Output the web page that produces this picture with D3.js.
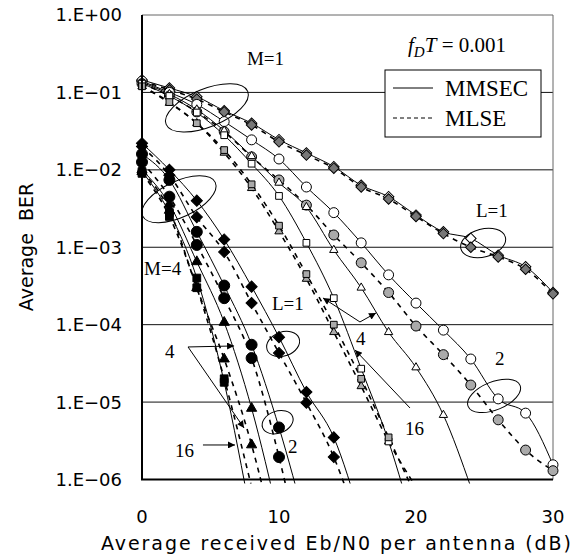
<!DOCTYPE html>
<html>
<head>
<meta charset="utf-8">
<script src="https://cdn.jsdelivr.net/npm/d3@7"></script>
<style>
body { margin: 0; background: #fff; }
</style>
</head>
<body>
<div id="chart"></div>
<script>
// values, 2 dB steps
const snr = [0, 2, 4, 6, 8, 10, 12, 14, 16, 18, 20, 22, 24, 26, 28, 30];
const yTicks = [1, 1e-1, 1e-2, 1e-3, 1e-4, 1e-5, 1e-6];
const yTickLabels = ["1.E+00", "1.E\u221201", "1.E\u221202", "1.E\u221203", "1.E\u221204", "1.E\u221205", "1.E\u221206"];
const xTicks = [0, 10, 20, 30];

// M=1
const m1L1mmsec = [0.145, 0.114, 0.088, 0.058, 0.040, 0.0245, 0.0165, 0.011, 0.0063, 0.0045, 0.0026, 0.00158, 0.0013, 0.00079, 0.00056, 0.00026];
const m1L1mlse  = [0.14, 0.108, 0.082, 0.056, 0.038, 0.023, 0.0155, 0.0105, 0.006, 0.0042, 0.0025, 0.0015, 0.001, 0.00075, 0.00052, 0.00025];
const m1L2mmsec = [0.14, 0.1, 0.07, 0.042, 0.0244, 0.0138, 0.006, 0.0028, 0.00114, 0.00044, 1.9e-4, 8.5e-5, 3.6e-5, 1.1e-5, 7.2e-6, 1.55e-6];
const m1L2mlse  = [0.13, 0.09, 0.056, 0.031, 0.0147, 0.0074, 0.0035, 0.00144, 6.3e-4, 2.6e-4, 9.6e-5, 4.1e-5, 1.66e-5, 5.9e-6, 2.4e-6, 1.3e-6];
const m1L4mmsec = [0.135, 0.095, 0.06, 0.032, 0.015, 0.0068, 0.0033, 9.2e-4, 3e-4, 8e-5, 2.8e-5, 6.8e-6, 8e-7];
const m1L4mlse  = [0.12, 0.073, 0.04, 0.0166, 0.0058, 0.0016, 3.9e-4, 8e-5, 1.6e-5, 3.1e-6, 8e-7];
const m1L16mmsec = [0.13, 0.09, 0.055, 0.028, 0.012, 0.0046, 0.00114, 2.2e-4, 2.7e-5, 3.1e-6, 2e-7];
const m1L16mlse  = [0.12, 0.075, 0.04, 0.018, 0.0065, 0.0019, 4.5e-4, 1e-4, 2e-5, 3.5e-6, 6e-7];

// M=4
const m4L1mmsec = [0.022, 0.01, 0.004, 0.00126, 3.1e-4, 6.9e-5, 1.35e-5, 3.5e-6, 3e-7];
const m4L1mlse  = [0.02, 0.0085, 0.00245, 8.7e-4, 1.9e-4, 4.3e-5, 9.8e-6, 1.95e-6, 2e-7];
const m4L2mmsec = [0.016, 0.0074, 0.00158, 3.2e-4, 5.5e-5, 4.7e-6, 2.5e-7];
const m4L2mlse  = [0.0126, 0.0045, 0.00107, 2.2e-4, 3.7e-5, 1.95e-6, 5e-8];
const m4L4mmsec = [0.01, 0.0036, 6.5e-4, 1.07e-4, 8.3e-6, 3e-7];
const m4L4mlse  = [0.0095, 0.003, 3e-4, 3.6e-5, 2.8e-6, 1e-7];
const m4L16mmsec = [0.0095, 0.0028, 4e-4, 1.8e-5, 3e-7];
const m4L16mlse  = [0.009, 0.0025, 3e-4, 2e-5, 8e-7];

const series = [
  { v: m1L1mmsec, shape: "diamond", M: 1, mlse: false },
  { v: m1L1mlse, shape: "diamond", M: 1, mlse: true },
  { v: m1L2mmsec, shape: "circle", M: 1, mlse: false },
  { v: m1L2mlse, shape: "circle", M: 1, mlse: true },
  { v: m1L4mmsec, shape: "triangle", M: 1, mlse: false },
  { v: m1L4mlse, shape: "triangle", M: 1, mlse: true },
  { v: m1L16mmsec, shape: "square", M: 1, mlse: false },
  { v: m1L16mlse, shape: "square", M: 1, mlse: true },
  { v: m4L1mmsec, shape: "diamond", M: 4, mlse: false },
  { v: m4L1mlse, shape: "diamond", M: 4, mlse: true },
  { v: m4L2mmsec, shape: "circle", M: 4, mlse: false },
  { v: m4L2mlse, shape: "circle", M: 4, mlse: true },
  { v: m4L4mmsec, shape: "triangle", M: 4, mlse: false },
  { v: m4L4mlse, shape: "triangle", M: 4, mlse: true },
  { v: m4L16mmsec, shape: "square", M: 4, mlse: false },
  { v: m4L16mlse, shape: "square", M: 4, mlse: true }
];

// annotations, in dB / log10(BER)
const labels = [
  { t: "M=1", x: 7.66, lg: -0.646 }, { t: "M=4", x: 0.15, lg: -3.358 },
  { t: "L=1", x: 24.38, lg: -2.609 }, { t: "L=1", x: 9.49, lg: -3.81 },
  { t: "4", x: 15.62, lg: -4.262 }, { t: "4", x: 1.68, lg: -4.43 },
  { t: "16", x: 19.2, lg: -5.425 }, { t: "16", x: 2.41, lg: -5.709 },
  { t: "2", x: 25.77, lg: -4.521 }, { t: "2", x: 10.66, lg: -5.657 }
];
const loops = [
  { x: 4.74, lg: -1.2, rx: 44, ry: 19, rot: -22 },
  { x: 2.7, lg: -2.38, rx: 40, ry: 18, rot: -25 },
  { x: 24.9, lg: -2.945, rx: 23, ry: 14, rot: -15 },
  { x: 25.7, lg: -4.92, rx: 28, ry: 14, rot: -22 },
  { x: 10.3, lg: -4.25, rx: 17, ry: 12, rot: -20 },
  { x: 9.9, lg: -5.26, rx: 16, ry: 11, rot: -20 }
];
const arrows = [
  { x1: 15.91, lg1: -3.965, x2: 13.21, lg2: -3.655 },
  { x1: 15.91, lg1: -3.965, x2: 17.08, lg2: -3.849 },
  { x1: 19.56, lg1: -5.076, x2: 15.55, lg2: -4.327 },
  { x1: 3.36, lg1: -4.288, x2: 6.72, lg2: -4.275 },
  { x1: 3.36, lg1: -4.288, x2: 7.45, lg2: -5.335 },
  { x1: 4.45, lg1: -5.554, x2: 6.79, lg2: -5.554 }
];

const width = 578, height = 557;
const pL = 142, pR = 553, pT = 15, pB = 479.5;

const svg = d3.select("#chart").append("svg")
    .attr("width", width)
    .attr("height", height)
    .style("background", "#fff");

const x = d3.scaleLinear().domain([0, 30]).range([pL, pR]);
const y = d3.scaleLog().domain([1e-6, 1]).range([pB, pT]);
const yl = lg => y(Math.pow(10, lg));

const defs = svg.append("defs");
defs.append("clipPath").attr("id", "clip")
  .append("rect").attr("x", pL).attr("y", pT).attr("width", pR - pL).attr("height", pB - pT + 4);
const marker = defs.append("marker")
    .attr("id", "arr").attr("viewBox", "0 0 10 10").attr("refX", 10).attr("refY", 5)
    .attr("markerWidth", 9).attr("markerHeight", 7).attr("markerUnits", "userSpaceOnUse")
    .attr("orient", "auto");
marker.append("path").attr("d", "M0,0L10,5L0,10z").attr("fill", "#000");

// grid
svg.append("g").selectAll("line").data(yTicks.slice(1, -1)).join("line")
    .attr("x1", pL).attr("x2", pR)
    .attr("y1", d => y(d)).attr("y2", d => y(d))
    .attr("stroke", "#111").attr("stroke-width", 1);
svg.append("path")
    .attr("d", `M${pL},${pT}H${pR}V${pB}`)
    .attr("fill", "none").attr("stroke", "#666").attr("stroke-width", 1);

// tick labels
svg.append("g").selectAll("text").data(yTicks).join("text")
    .attr("x", 122).attr("y", d => y(d)).attr("dy", "0.36em")
    .attr("text-anchor", "end")
    .style("font-family", "DejaVu Sans").style("font-size", "18px")
    .text((d, i) => yTickLabels[i]);
svg.append("g").selectAll("text").data(xTicks).join("text")
    .attr("x", d => x(d)).attr("y", 523)
    .attr("text-anchor", "middle")
    .style("font-family", "DejaVu Sans").style("font-size", "18px")
    .text(d => d);

svg.append("text")
    .attr("x", 336).attr("y", 550).attr("text-anchor", "middle")
    .attr("textLength", 470).attr("lengthAdjust", "spacing")
    .style("font-family", "DejaVu Sans").style("font-size", "19px")
    .text("Average received Eb/N0 per antenna (dB)");
svg.append("text")
    .attr("transform", "translate(33,247) rotate(-90)").attr("text-anchor", "middle")
    .style("font-family", "DejaVu Sans").style("font-size", "19px")
    .text("Average\u00a0\u00a0BER");

// curves
const line = d3.line()
    .x((d, i) => x(snr[i]))
    .y(d => y(d))
    .curve(d3.curveMonotoneX);
const curves = svg.append("g").attr("clip-path", "url(#clip)");
curves.selectAll("path").data(series).join("path")
    .attr("d", d => line(d.v))
    .attr("fill", "none").attr("stroke", "#000")
    .attr("stroke-width", d => d.mlse ? 1.6 : 1)
    .attr("stroke-dasharray", d => d.mlse ? "5,5" : null);

// markers
const symType = { circle: d3.symbolCircle, triangle: d3.symbolTriangle, square: d3.symbolSquare, diamond: d3.symbolSquare };
function symSize(s, M) {
  if (M === 4) return { circle: 95, triangle: 45, square: 60, diamond: 62 }[s];
  return { circle: 78, triangle: 30, square: 45, diamond: 56 }[s];
}
const pts = [];
series.forEach(s => s.v.forEach((v, i) => {
  if (v >= 1e-6 && v <= 1) pts.push({ s, v, i });
}));
svg.append("g").selectAll("path").data(pts).join("path")
    .attr("d", d => d3.symbol(symType[d.s.shape], symSize(d.s.shape, d.s.M))())
    .attr("transform", d => `translate(${x(snr[d.i])},${y(d.v)})` + (d.s.shape === "diamond" ? " rotate(45)" : ""))
    .attr("fill", d => d.s.M === 4 ? "#000" : (d.s.mlse ? (d.s.shape === "diamond" ? "#777" : "#aaa") : "#fff"))
    .attr("stroke", "#000").attr("stroke-width", 1);

// annotations
const ann = svg.append("g");
ann.selectAll("ellipse").data(loops).join("ellipse")
    .attr("transform", d => `translate(${x(d.x)},${yl(d.lg)}) rotate(${d.rot})`)
    .attr("rx", d => d.rx).attr("ry", d => d.ry)
    .attr("fill", "none").attr("stroke", "#000").attr("stroke-width", 1);
ann.selectAll("line").data(arrows).join("line")
    .attr("x1", d => x(d.x1)).attr("y1", d => yl(d.lg1))
    .attr("x2", d => x(d.x2)).attr("y2", d => yl(d.lg2))
    .attr("stroke", "#000").attr("stroke-width", 1)
    .attr("marker-end", "url(#arr)");
ann.selectAll("text").data(labels).join("text")
    .attr("x", d => x(d.x)).attr("y", d => yl(d.lg))
    .style("font-family", "Liberation Serif").style("font-size", "19px")
    .text(d => d.t);

// fDT
const fdt = svg.append("text").attr("x", 408).attr("y", 52)
    .style("font-family", "Liberation Serif").style("font-size", "21px");
fdt.append("tspan").style("font-style", "italic").text("f");
fdt.append("tspan").style("font-style", "italic").style("font-size", "15px").attr("dy", 5).text("D");
fdt.append("tspan").style("font-style", "italic").attr("dy", -5).text("T");
fdt.append("tspan").text(" = 0.001");

// legend
const lg = svg.append("g").attr("transform", "translate(385,70)");
lg.append("rect").attr("width", 156).attr("height", 67)
    .attr("fill", "#fff").attr("stroke", "#000").attr("stroke-width", 1);
lg.append("line").attr("x1", 8).attr("x2", 48).attr("y1", 18).attr("y2", 18)
    .attr("stroke", "#000").attr("stroke-width", 1);
lg.append("line").attr("x1", 8).attr("x2", 48).attr("y1", 48).attr("y2", 48)
    .attr("stroke", "#000").attr("stroke-width", 1).attr("stroke-dasharray", "4,3");
lg.selectAll("text").data(["MMSEC", "MLSE"]).join("text")
    .attr("x", 60).attr("y", (d, i) => 26 + i * 30)
    .style("font-family", "Liberation Serif").style("font-size", "23px")
    .text(d => d);

// axis lines
svg.append("path")
    .attr("d", `M${pL},${pT}V${pB}H${pR}`)
    .attr("fill", "none").attr("stroke", "#000").attr("stroke-width", 2);
</script>
</body>
</html>
